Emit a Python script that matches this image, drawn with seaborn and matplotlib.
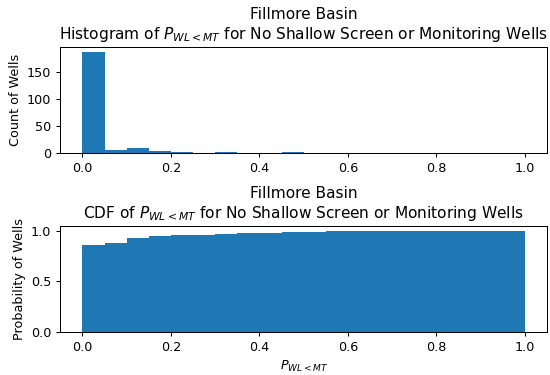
import numpy as np
import pandas as pd
import matplotlib
matplotlib.use("Agg")
import matplotlib.pyplot as plt
import seaborn as sns

# Bin edges of P_{WL<MT} (20 equal bins from 0 to 1)
bin_edges = [0.0, 0.05, 0.10, 0.15, 0.20, 0.25, 0.30, 0.35, 0.40, 0.45, 0.50,
             0.55, 0.60, 0.65, 0.70, 0.75, 0.80, 0.85, 0.90, 0.95, 1.0]
# Number of wells in each bin
well_counts = [188, 5, 9, 4, 2, 0, 2, 0, 0, 2, 0, 0, 0, 0, 0, 0, 0, 0, 0, 0]
# Cumulative probability at each bin
cdf_values = [0.86, 0.882, 0.925, 0.944, 0.954, 0.96, 0.97, 0.977, 0.983, 0.99,
              0.99, 0.995, 1.0, 1.0, 1.0, 1.0, 1.0, 1.0, 1.0, 1.0]

basin = "Fillmore Basin"
group = "No Shallow Screen or Monitoring Wells"
xticks = [0.0, 0.2, 0.4, 0.6, 0.8, 1.0]

centers = [(a + b) / 2 for a, b in zip(bin_edges[:-1], bin_edges[1:])]
df = pd.DataFrame({"p": centers, "n": well_counts, "cdf": cdf_values})

DPI = 92
fig = plt.figure(figsize=(550 / DPI, 375 / DPI), dpi=DPI)
ax1 = fig.add_axes([0.1096, 0.592, 0.885, 0.2835])
ax2 = fig.add_axes([0.1096, 0.1147, 0.885, 0.2833])

color = "#1f77b4"
sns.histplot(data=df, x="p", weights="n", bins=bin_edges, ax=ax1,
             color=color, alpha=1, linewidth=0)
sns.histplot(data=df, x="p", weights="cdf", bins=bin_edges, ax=ax2,
             color=color, alpha=1, linewidth=0)

ax1.set_title(f"{basin}\nHistogram of $P_{{WL<MT}}$ for {group}")
ax1.set_ylabel("Count of Wells")
ax1.set_xlabel("")
ax1.set_xticks(xticks)
ax1.set_xlim(-0.05, 1.05)

ax2.set_title(f"{basin}\nCDF of $P_{{WL<MT}}$ for {group}")
ax2.set_ylabel("Probability of Wells")
ax2.set_xlabel("$P_{WL<MT}$")
ax2.set_xticks(xticks)
ax2.set_xlim(-0.05, 1.05)
ax2.set_ylim(0, 1.05)
ax2.set_yticks([0.0, 0.5, 1.0])

fig.savefig("out.png", dpi=DPI)
